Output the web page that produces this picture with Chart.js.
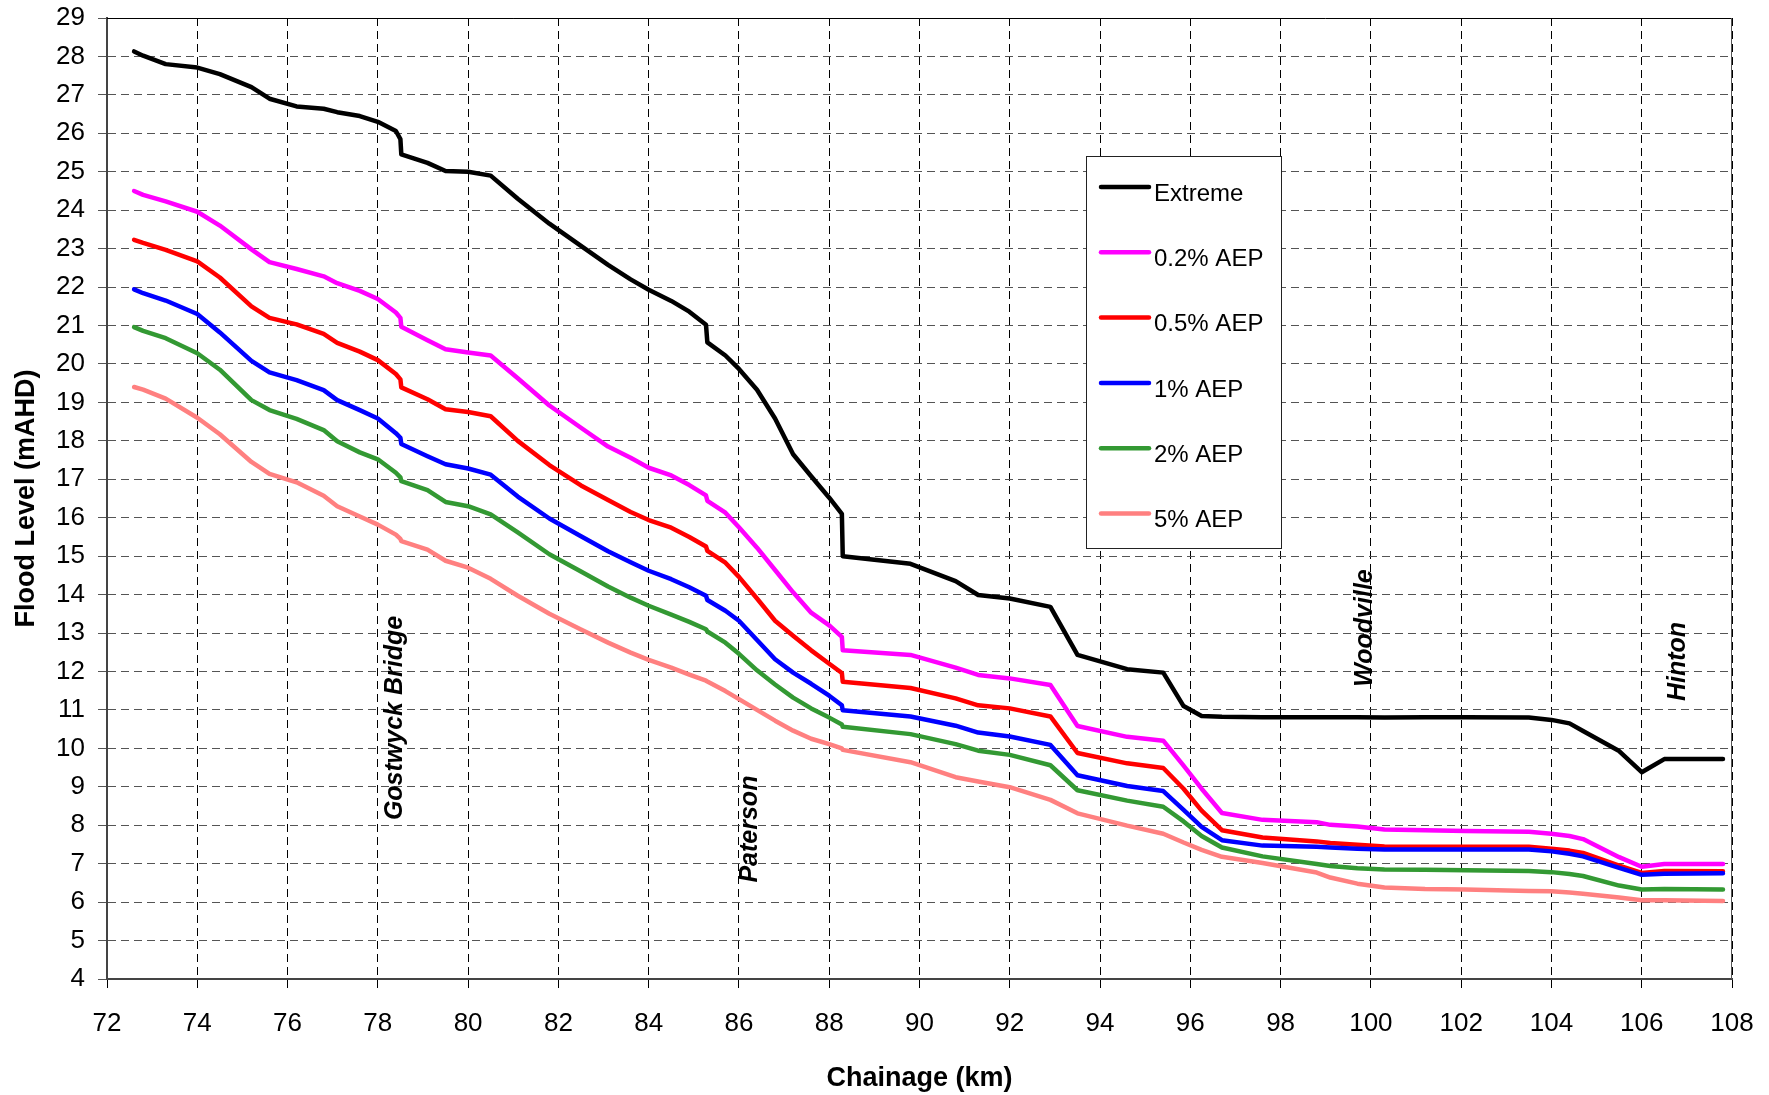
<!DOCTYPE html>
<html>
<head>
<meta charset="utf-8">
<script src="https://cdn.jsdelivr.net/npm/chart.js@4.4.1/dist/chart.umd.min.js"></script>
<style>
  html, body { margin: 0; padding: 0; background: #fff; }
  #wrap { width: 1769px; height: 1095px; }
</style>
</head>
<body>
<div id="wrap"><canvas id="c" width="1769" height="1095"></canvas></div>
<script>
const chainage = [
  72.6, 72.8, 73.3, 74.0, 74.5, 75.2, 75.6, 76.2,
  76.8, 77.1, 77.6, 78.0, 78.4, 78.5, 78.52, 79.1,
  79.5, 80.0, 80.5, 81.1, 81.8, 82.5, 83.1, 83.6,
  84.0, 84.5, 84.9, 85.27, 85.3, 85.7, 86.0, 86.4,
  86.8, 87.2, 87.6, 88.0, 88.28, 88.3, 89.8, 90.8,
  91.3, 92.0, 92.9, 93.5, 94.6, 95.4, 95.85, 96.25,
  96.7, 97.6, 98.8, 99.1, 99.7, 100.3, 101.2, 102.1,
  103.5, 104.0, 104.4, 104.7, 105.5, 106.0, 106.5, 107.8
];
const extreme = [
  28.13, 28.02, 27.80, 27.71, 27.54, 27.20, 26.90, 26.70,
  26.64, 26.55, 26.45, 26.30, 26.06, 25.85, 25.45, 25.23,
  25.02, 25.00, 24.90, 24.30, 23.65, 23.07, 22.58, 22.20,
  21.93, 21.64, 21.36, 21.02, 20.56, 20.22, 19.87, 19.33,
  18.58, 17.65, 17.08, 16.52, 16.10, 15.00, 14.80, 14.35,
  13.99, 13.90, 13.68, 12.43, 12.06, 11.97, 11.10, 10.84,
  10.82, 10.81, 10.81, 10.81, 10.81, 10.80, 10.81, 10.81,
  10.80, 10.74, 10.65, 10.45, 9.93, 9.38, 9.72, 9.72
];
const aep02 = [
  24.50, 24.40, 24.23, 23.96, 23.60, 22.98, 22.65, 22.47,
  22.28, 22.10, 21.90, 21.69, 21.34, 21.20, 20.97, 20.62,
  20.38, 20.30, 20.22, 19.63, 18.92, 18.34, 17.85, 17.56,
  17.30, 17.10, 16.85, 16.58, 16.44, 16.13, 15.75, 15.22,
  14.64, 14.06, 13.53, 13.20, 12.90, 12.55, 12.43, 12.10,
  11.91, 11.82, 11.65, 10.58, 10.30, 10.20, 9.55, 8.95,
  8.32, 8.14, 8.08, 8.01, 7.97, 7.89, 7.87, 7.85,
  7.83, 7.78, 7.72, 7.64, 7.17, 6.92, 6.99, 6.99
];
const aep05 = [
  23.23, 23.15, 22.97, 22.67, 22.25, 21.50, 21.20, 21.03,
  20.78, 20.55, 20.32, 20.10, 19.74, 19.60, 19.39, 19.08,
  18.82, 18.75, 18.64, 18.00, 17.37, 16.84, 16.46, 16.15,
  15.94, 15.74, 15.50, 15.25, 15.14, 14.83, 14.46, 13.90,
  13.32, 12.93, 12.55, 12.20, 11.96, 11.73, 11.57, 11.30,
  11.12, 11.04, 10.83, 9.88, 9.61, 9.49, 8.95, 8.38,
  7.87, 7.68, 7.58, 7.54, 7.49, 7.45, 7.44, 7.44,
  7.44, 7.39, 7.34, 7.28, 6.95, 6.76, 6.81, 6.80
];
const aep1 = [
  21.94, 21.84, 21.65, 21.30, 20.82, 20.08, 19.78, 19.58,
  19.32, 19.06, 18.80, 18.58, 18.20, 18.08, 17.92, 17.60,
  17.39, 17.28, 17.12, 16.55, 15.98, 15.52, 15.13, 14.84,
  14.62, 14.40, 14.19, 13.97, 13.86, 13.58, 13.32, 12.82,
  12.32, 11.97, 11.68, 11.37, 11.12, 10.99, 10.83, 10.59,
  10.41, 10.31, 10.09, 9.30, 9.02, 8.89, 8.40, 7.96,
  7.61, 7.47, 7.44, 7.42, 7.39, 7.37, 7.37, 7.37,
  7.37, 7.32, 7.26, 7.19, 6.89, 6.71, 6.74, 6.75
];
const aep2 = [
  20.96, 20.86, 20.67, 20.28, 19.85, 19.06, 18.80, 18.57,
  18.28, 17.99, 17.70, 17.52, 17.17, 17.05, 16.95, 16.72,
  16.41, 16.30, 16.09, 15.62, 15.05, 14.60, 14.21, 13.92,
  13.71, 13.48, 13.29, 13.10, 13.04, 12.75, 12.46, 12.03,
  11.66, 11.32, 11.04, 10.80, 10.62, 10.56, 10.37, 10.11,
  9.94, 9.83, 9.56, 8.91, 8.64, 8.48, 8.10, 7.72,
  7.42, 7.19, 6.99, 6.94, 6.88, 6.85, 6.84, 6.83,
  6.81, 6.78, 6.73, 6.68, 6.43, 6.33, 6.34, 6.33
];
const aep5 = [
  19.40, 19.33, 19.10, 18.60, 18.17, 17.45, 17.14, 16.92,
  16.57, 16.30, 16.03, 15.82, 15.56, 15.45, 15.39, 15.17,
  14.88, 14.70, 14.41, 13.97, 13.50, 13.09, 12.75, 12.49,
  12.30, 12.10, 11.92, 11.76, 11.74, 11.49, 11.28, 11.00,
  10.72, 10.46, 10.25, 10.11, 10.00, 9.96, 9.64, 9.25,
  9.14, 8.99, 8.66, 8.31, 7.99, 7.78, 7.55, 7.36,
  7.18, 7.02, 6.77, 6.64, 6.48, 6.38, 6.34, 6.33,
  6.29, 6.28, 6.25, 6.22, 6.12, 6.05, 6.05, 6.03
];
const seriesLabels = ['Extreme', '0.2% AEP', '0.5% AEP', '1% AEP', '2% AEP', '5% AEP'];
const seriesColors = ['#000000', '#ff00ff', '#ff0000', '#0000ff', '#339933', '#ff8080'];
const seriesValues = [extreme, aep02, aep05, aep1, aep2, aep5];

const xMin = 72, xMax = 108, xStep = 2;
const yMin = 4, yMax = 29, yStep = 1;

const placeNames = ['Gostwyck Bridge', 'Paterson', 'Woodville', 'Hinton'];
const placeKm = [78.38, 86.24, 99.87, 106.8];
const placeLevel = [10.79, 7.9, 13.13, 12.26];

const FONT = "'Liberation Sans', Arial, Helvetica, sans-serif";

const datasets = seriesValues.map((vals, i) => ({
  label: seriesLabels[i],
  data: chainage.map((x, j) => ({ x: x, y: vals[j] })),
  borderColor: seriesColors[i],
  backgroundColor: seriesColors[i],
  borderWidth: 4.5,
  pointRadius: 0,
  tension: 0,
  fill: false,
  borderJoinStyle: 'round',
  borderCapStyle: 'round',
  order: seriesValues.length - i
}));

const framePlugin = {
  id: 'frame',
  beforeDatasetsDraw(chart) {
    const { ctx, chartArea: a } = chart;
    ctx.save();
    ctx.lineWidth = 1;
    ctx.setLineDash([]);
    ctx.strokeStyle = '#000';
    ctx.beginPath();
    ctx.moveTo(a.left, a.top + 0.5);
    ctx.lineTo(a.right, a.top + 0.5);
    ctx.stroke();
    ctx.strokeStyle = '#555';
    ctx.beginPath();
    ctx.moveTo(a.right - 0.5, a.top);
    ctx.lineTo(a.right - 0.5, a.bottom);
    ctx.stroke();
    ctx.restore();
  }
};

const placePlugin = {
  id: 'places',
  afterDatasetsDraw(chart) {
    const { ctx } = chart;
    const xs = chart.scales.x, ys = chart.scales.y;
    ctx.save();
    ctx.fillStyle = '#000';
    ctx.font = "italic bold 25px " + FONT;
    ctx.textAlign = 'center';
    ctx.textBaseline = 'middle';
    placeNames.forEach((name, i) => {
      const px = xs.getPixelForValue(placeKm[i]);
      const py = ys.getPixelForValue(placeLevel[i]);
      ctx.save();
      ctx.translate(px, py);
      ctx.rotate(-Math.PI / 2);
      ctx.fillText(name, 0, 0);
      ctx.restore();
    });
    ctx.restore();
  }
};

const legendPlugin = {
  id: 'boxLegend',
  afterDraw(chart) {
    const { ctx } = chart;
    const bx = 1086, by = 156, bw = 195, bh = 392;
    ctx.save();
    ctx.fillStyle = '#fff';
    ctx.fillRect(bx, by, bw, bh);
    ctx.strokeStyle = '#222';
    ctx.lineWidth = 1;
    ctx.setLineDash([]);
    ctx.strokeRect(bx + 0.5, by + 0.5, bw, bh);
    chart.data.datasets.forEach((ds, i) => {
      const ly = 187 + i * 65.3;
      ctx.strokeStyle = ds.borderColor;
      ctx.lineWidth = 4.5;
      ctx.lineCap = 'round';
      ctx.beginPath();
      ctx.moveTo(1101, ly);
      ctx.lineTo(1149, ly);
      ctx.stroke();
      ctx.fillStyle = '#000';
      ctx.font = "24px " + FONT;
      ctx.textAlign = 'left';
      ctx.textBaseline = 'middle';
      ctx.fillText(ds.label, 1154, ly + 7);
    });
    ctx.restore();
  }
};

new Chart(document.getElementById('c'), {
  type: 'line',
  data: { datasets: datasets },
  plugins: [framePlugin, placePlugin, legendPlugin],
  options: {
    responsive: false,
    devicePixelRatio: 1,
    animation: false,
    layout: { padding: { top: 18, right: 37, left: 0, bottom: 0 } },
    plugins: {
      legend: { display: false },
      tooltip: { enabled: false },
      title: { display: false }
    },
    scales: {
      x: {
        type: 'linear',
        min: xMin, max: xMax,
        afterFit(s) { s.height = 116; s.paddingLeft = 0; s.paddingRight = 0; },
        ticks: {
          stepSize: xStep,
          autoSkip: false,
          maxRotation: 0,
          color: '#000',
          padding: 20,
          font: { family: FONT, size: 26 }
        },
        grid: {
          color: '#000',
          lineWidth: 1,
          tickLength: 9,
          tickColor: '#000',
          drawTicks: true
        },
        border: { display: true, color: '#444', width: 2, dash: [8, 5] },
        title: {
          display: true,
          text: 'Chainage (km)',
          color: '#000',
          font: { family: FONT, size: 27, weight: 'bold' },
          padding: { top: 0, bottom: 0 }
        }
      },
      y: {
        type: 'linear',
        min: yMin, max: yMax,
        afterFit(s) { s.width = 107; s.paddingTop = 0; s.paddingBottom = 0; },
        ticks: {
          stepSize: yStep,
          autoSkip: false,
          color: '#000',
          padding: 13,
          font: { family: FONT, size: 26 }
        },
        grid: {
          color: '#555',
          lineWidth: 1,
          tickLength: 9,
          tickColor: '#555',
          drawTicks: true
        },
        border: { display: true, color: '#444', width: 2, dash: [8, 5] },
        title: {
          display: true,
          text: 'Flood Level (mAHD)',
          color: '#000',
          font: { family: FONT, size: 27, weight: 'bold' },
          padding: { top: 10, bottom: 0 }
        }
      }
    }
  }
});
</script>
</body>
</html>
